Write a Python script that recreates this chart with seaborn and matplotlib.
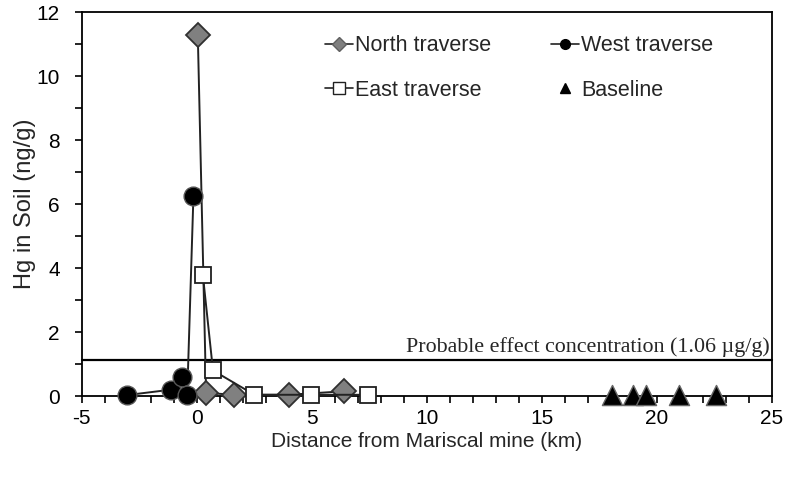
import matplotlib
matplotlib.use("Agg")
import matplotlib.pyplot as plt
from matplotlib.lines import Line2D
from matplotlib.ticker import MultipleLocator
import seaborn as sns

# --- data ------------------------------------------------------------------
north_km = [0.04, 0.4, 1.6, 4.0, 6.4]
north_hg = [11.28, 0.1, 0.04, 0.04, 0.15]

west_km = [-3.04, -1.12, -0.65, -0.42, -0.15]
west_hg = [0.03, 0.2, 0.6, 0.03, 6.25]

east_km = [0.26, 0.7, 2.5, 4.98, 7.45]
east_hg = [3.78, 0.8, 0.04, 0.04, 0.04]

base_km = [18.04, 18.96, 19.5, 20.96, 22.57]
base_hg = [0.04, 0.04, 0.04, 0.04, 0.04]

pec = 1.12  # drawn position of the PEC line
pec_label = "Probable effect concentration (1.06 \u00b5g/g)"

# --- style -------------------------------------------------------------------
sns.set_style("ticks")
plt.rcParams["font.family"] = ["Liberation Sans", "DejaVu Sans"]
plt.rcParams["axes.unicode_minus"] = False

fig = plt.figure(figsize=(7.87, 4.83), dpi=100)
ax = fig.add_axes([0.104, 0.180, 0.877, 0.795])

ax.axhline(pec, color="black", lw=1.6, zorder=1)

sns.lineplot(x=north_km, y=north_hg, sort=False, ax=ax, color="#222222", lw=1.4,
             marker="D", markersize=12, markerfacecolor="#808080",
             markeredgecolor="#303030", markeredgewidth=1.3, zorder=3)
sns.lineplot(x=east_km, y=east_hg, sort=False, ax=ax, color="#222222", lw=1.4,
             marker="s", markersize=12, markerfacecolor="white",
             markeredgecolor="#202020", markeredgewidth=1.3, zorder=4)
sns.lineplot(x=west_km, y=west_hg, sort=False, ax=ax, color="#222222", lw=1.4,
             marker="o", markersize=13.5, markerfacecolor="black",
             markeredgecolor="#555555", markeredgewidth=1.0, zorder=5)
sns.scatterplot(x=base_km, y=base_hg, ax=ax, marker="^", s=210, color="black",
                edgecolor="#666666", linewidth=1.0, zorder=5)

for coll in ax.collections:
    coll.set_clip_on(False)
for ln in ax.lines:
    ln.set_clip_on(False)

ax.text(24.9, pec + 0.25, pec_label, ha="right", va="baseline", fontsize=15.8,
        family=["Liberation Serif", "DejaVu Serif"])

ax.set_xlim(-5, 25)
ax.set_ylim(0, 12)
ax.xaxis.set_major_locator(MultipleLocator(5))
ax.xaxis.set_minor_locator(MultipleLocator(1))
ax.yaxis.set_major_locator(MultipleLocator(2))
ax.yaxis.set_minor_locator(MultipleLocator(1))
ax.tick_params(which="both", direction="out", length=5, width=1.2,
               colors="black", labelsize=15)
ax.tick_params(axis="x", pad=4)
ax.tick_params(axis="y", pad=11)

for sp in ax.spines.values():
    sp.set_visible(True)
    sp.set_color("black")
    sp.set_linewidth(1.3)

ax.set_xlabel("Distance from Mariscal mine (km)", fontsize=15, labelpad=3)
ax.set_ylabel("Hg in Soil (ng/g)", fontsize=17, labelpad=0)

handles = [
    Line2D([], [], color="#222222", lw=1.2, marker="D", markersize=7,
           markerfacecolor="#808080", markeredgecolor="#606060"),
    Line2D([], [], color="#222222", lw=1.2, marker="s", markersize=8,
           markerfacecolor="white", markeredgecolor="#202020"),
    Line2D([], [], color="#222222", lw=1.2, marker="o", markersize=7,
           markerfacecolor="black", markeredgecolor="black"),
    Line2D([], [], lw=0, marker="^", markersize=7,
           markerfacecolor="black", markeredgecolor="black"),
]
labels = ["North traverse", "East traverse", "West traverse", "Baseline"]
ax.legend(handles, labels, ncol=2, frameon=False, fontsize=15.5,
          loc="upper left", bbox_to_anchor=(0.352, 0.94),
          borderpad=0, borderaxespad=0,
          handlelength=1.3, handletextpad=0.1, columnspacing=2.8,
          labelspacing=1.1)

fig.savefig("out.png", dpi=100)
